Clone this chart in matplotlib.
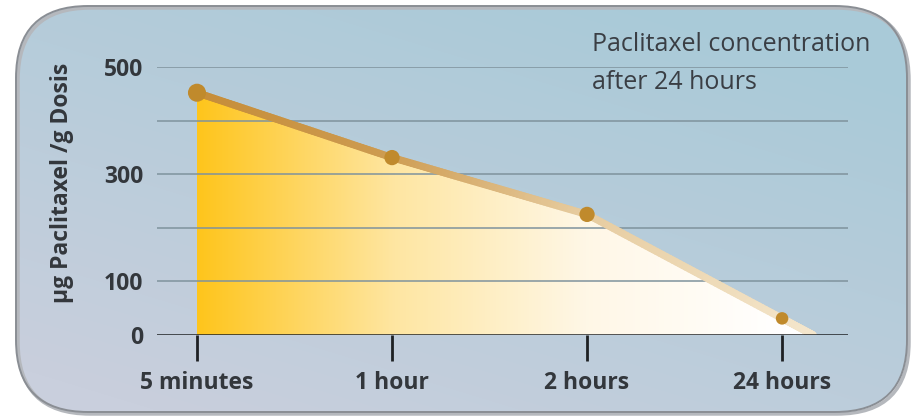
import numpy as np
import matplotlib
matplotlib.use("Agg")
import matplotlib.pyplot as plt
from matplotlib.colors import LinearSegmentedColormap, to_rgb
from matplotlib.collections import LineCollection
from matplotlib.patches import FancyBboxPatch, Polygon

# ---- data -------------------------------------------------------------
time_labels = ["5 minutes", "1 hour", "2 hours", "24 hours"]
concentration = [452, 331, 225, 31]          # µg Paclitaxel / g Dosis
y_ticks = [0, 100, 200, 300, 400, 500]
y_tick_labels = ["0", "100", "", "300", "", "500"]
title_text = "Paclitaxel concentration\nafter 24 hours"
y_label = "µg Paclitaxel /g Dosis"

W, H = 912, 418
FONT = "Open Sans"
TEXT_COLOR = "#33373c"

fig = plt.figure(figsize=(W / 100, H / 100), dpi=100)
fig.patch.set_facecolor("white")

# ---- rounded panel with soft blue/grey gradient ------------------------
bg = fig.add_axes([0, 0, 1, 1])
bg.set_xlim(0, W)
bg.set_ylim(H, 0)
bg.axis("off")

yy, xx = np.mgrid[0:H, 0:W]
t = np.clip(0.5 * (xx / W) + 0.75 * (1 - yy / H) - 0.1, 0, 1)
c_low = np.array(to_rgb("#c9cfdd"))
c_high = np.array(to_rgb("#a9cad8"))
grad = c_low[None, None, :] * (1 - t[..., None]) + c_high[None, None, :] * t[..., None]

panel = FancyBboxPatch((16, 6), 891, 406, boxstyle="round,pad=0,rounding_size=72",
                       transform=bg.transData, facecolor="none",
                       edgecolor="#8a8e94", linewidth=1.4, zorder=3)
shadow = FancyBboxPatch((18, 8), 891, 406, boxstyle="round,pad=0,rounding_size=72",
                        transform=bg.transData, facecolor="none",
                        edgecolor="#b5b8bd", linewidth=2.5, zorder=2)
bg.add_patch(shadow)
bg.add_patch(panel)
img = bg.imshow(grad, extent=[0, W, H, 0], zorder=1, interpolation="bilinear")
img.set_clip_path(panel)

# ---- main axes -----------------------------------------------------------
x0_px, x1_px = 157, 848
y0_px, y500_px = 335, 67
ax = fig.add_axes([x0_px / W, 1 - y0_px / H, (x1_px - x0_px) / W, (y0_px - y500_px) / H])
ax.patch.set_alpha(0)
x = np.arange(len(concentration))
ax.set_xlim(-0.205, 3.338)
ax.set_ylim(0, 500)
for s in ax.spines.values():
    s.set_visible(False)

# extend the last segment down to zero
slope = (concentration[-1] - concentration[-2]) / (x[-1] - x[-2])
x_end = x[-1] - concentration[-1] / slope
line_x = np.append(x, x_end)
line_y = np.append(concentration, 0)

# gradient fill under the curve
fill_cmap = LinearSegmentedColormap.from_list(
    "fill", [(0.0, "#ffc51c"), (0.32, "#fee6a2"), (0.63, "#fff7e6"), (0.95, "#ffffff"), (1.0, "#ffffff")])
fill_img = ax.imshow(np.linspace(0, 1, 256)[None, :], cmap=fill_cmap, aspect="auto",
                     extent=[line_x[0], line_x[-1], 0, 500], origin="lower", zorder=1,
                     interpolation="bicubic")
poly = Polygon(np.column_stack([np.r_[line_x, line_x[0]], np.r_[line_y, 0]]),
               closed=True, facecolor="none", edgecolor="none", transform=ax.transData)
ax.add_patch(poly)
fill_img.set_clip_path(poly)

# grid lines
ax.hlines(y_ticks[1:], -0.205, 3.338, colors="#7f939d", linewidth=1.3, alpha=0.85, zorder=2)
ax.axhline(0, color="#1e2124", linewidth=1.8, zorder=5)

# concentration line with fading colour
n_sub = 60
pts = []
for i in range(len(line_x) - 1):
    xs = np.linspace(line_x[i], line_x[i + 1], n_sub)
    ys = np.linspace(line_y[i], line_y[i + 1], n_sub)
    pts.append(np.column_stack([xs, ys])[:-1])
pts.append(np.array([[line_x[-1], line_y[-1]]]))
pts = np.vstack(pts)
segs = np.stack([pts[:-1], pts[1:]], axis=1)
line_cmap = LinearSegmentedColormap.from_list(
    "line", [(0.0, "#c68d38"), (0.3, "#cd9b50"), (0.62, "#e6cb9e"), (1.0, "#f4e6cc")])
pos = (segs[:, 0, 0] - line_x[0]) / (line_x[-1] - line_x[0])
lc = LineCollection(segs, colors=line_cmap(pos), linewidths=5.2, capstyle="round", zorder=3)
ax.add_collection(lc)

# markers
marker_sizes = [13, 11, 11, 9]
ax.scatter(x, concentration, s=np.array(marker_sizes) ** 2, color="#c08a2c",
           edgecolors="none", zorder=4)

# ticks
ax.set_yticks(y_ticks)
ax.set_yticklabels(y_tick_labels)
ax.tick_params(axis="y", length=0, pad=10)
ax.set_xticks(x)
ax.set_xticklabels(time_labels)
ax.tick_params(axis="x", length=19, width=2, color="#1e2124", direction="out", pad=7)
for lab in ax.get_xticklabels() + ax.get_yticklabels():
    lab.set_fontfamily(FONT)
    lab.set_fontweight("bold")
    lab.set_fontsize(16.5)
    lab.set_color(TEXT_COLOR)

fig.text(62 / W, 1 - 183 / H, y_label, rotation=90, ha="center", va="center",
         fontfamily=FONT, fontweight="bold", fontsize=16.5, color=TEXT_COLOR)
fig.text(592 / W, 1 - 32 / H, title_text, ha="left", va="top", fontfamily=FONT,
         fontsize=18, color="#3a3e44", linespacing=1.7)

fig.savefig("out.png", dpi=100)
